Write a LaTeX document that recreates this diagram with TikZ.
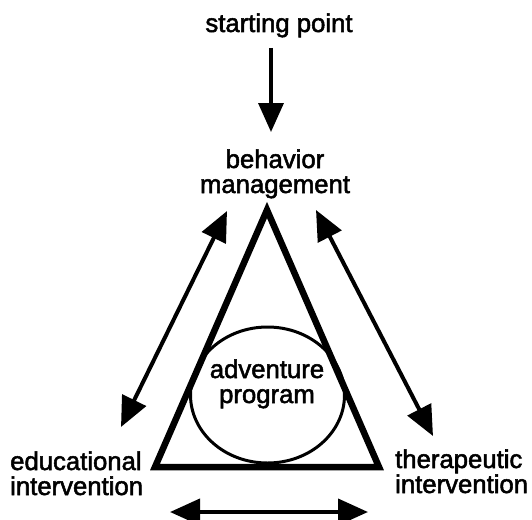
\documentclass[tikz,border=0pt]{standalone}
\usepackage{fontspec}
\setmainfont{Liberation Sans}[FakeBold=2]
\usetikzlibrary{arrows.meta}
\begin{document}
\begin{tikzpicture}
[labeldecorate/.style={inner sep=0pt,font=\fontsize{25.7}{25}\selectfont},%
  arrowdecorate/.style={-{Triangle[length=29pt,width=25pt]},line width=3.5pt},%
  bothdecorate/.style={{Triangle[length=30pt,width=26pt]}-{Triangle[length=30pt,width=26pt]},line width=4pt},%
  triangledecorate/.style={line width=6.5pt,line join=miter},%
  x=1pt,y=-1pt]
\useasboundingbox (0,0) rectangle (532,519);
%% labels (base is the last line)
\node (start) at (279,32) [labeldecorate,anchor=base] {starting point};
\node (behavior) at (275,193) [labeldecorate,anchor=base,align=center] {behavior\\management};
\node (educ) at (10,495) [labeldecorate,anchor=base west,align=left] {educational\\intervention};
\node (thera) at (395,493) [labeldecorate,anchor=base west,align=left] {therapeutic\\intervention};
\node (adventure) at (267,403) [labeldecorate,anchor=base,align=center] {adventure\\program};
%% triangle and circle
\coordinate (apex) at (267,210);
\coordinate (left) at (155,467);
\coordinate (right) at (379,467);
\draw[triangledecorate] (apex) -- (left) -- (right) -- cycle;
\draw[line width=3pt] (267.5,395) ellipse [x radius=77,y radius=68];
%% arrow ends
\coordinate (s1) at (271,48);
\coordinate (s2) at (271,132);
\coordinate (l1) at (227,211);
\coordinate (l2) at (121,427);
\coordinate (r1) at (316,210);
\coordinate (r2) at (433,436);
\coordinate (b1) at (170,512);
\coordinate (b2) at (368,512);
%% arrows
\draw[arrowdecorate] (s1) -- (s2);
\path
\foreach \startnode/\endnode in {l1/l2, r1/r2, b1/b2} {
  (\startnode) edge[bothdecorate] (\endnode)
};
\end{tikzpicture}
\end{document}
